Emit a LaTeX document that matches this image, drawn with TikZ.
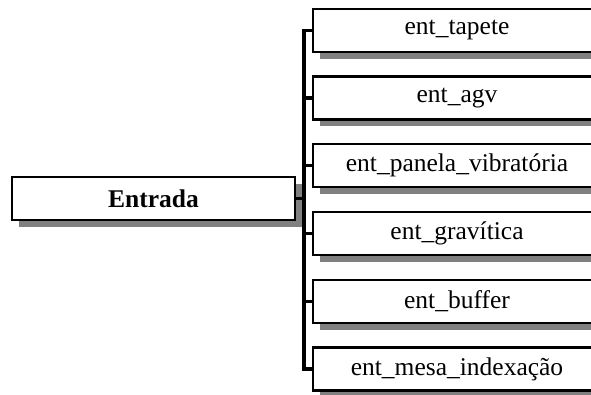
\documentclass[tikz,border=0pt]{standalone}
\usepackage{fontspec}
\setmainfont{Liberation Serif}
\usetikzlibrary{shadows}
\definecolor{shadowgray}{RGB}{128,128,128}
\begin{document}
\begin{tikzpicture}[x=1pt,y=1pt,
  box/.style={draw, line width=2.3pt, fill=white, minimum height=43pt, inner sep=0pt,
    font=\fontsize{25.5}{30}\selectfont,
    drop shadow={shadow xshift=7pt, shadow yshift=-7pt, fill=shadowgray, opacity=1}},
  subbox/.style={box, minimum width=288pt},
  bus/.style={line width=3.5pt}]
\useasboundingbox (0,0) rectangle (591,394);
\clip (0,0) rectangle (591,394);
\node[box, minimum width=283pt, font=\fontsize{25.5}{30}\selectfont\bfseries] (entrada) at (153.5,195.5) {Entrada};
\node[subbox] (t1) at (457,363.5) {ent\_tapete};
\node[subbox] (t2) at (457,296) {ent\_agv};
\node[subbox] (t3) at (457,228.5) {ent\_panela\_vibratória};
\node[subbox] (t4) at (457,160.5) {ent\_gravítica};
\node[subbox] (t5) at (457,92.5) {ent\_buffer};
\node[subbox] (t6) at (457,25) {ent\_mesa\_indexação};
\coordinate (bx) at (304,0);
\draw[bus] (t1.west) -| (t6.west -| bx) -- (t6.west);
\foreach \n in {t2,t3,t4,t5}{\draw[bus] (\n.west) -- (\n.west -| bx);}
\draw[bus] (entrada.east) -- (entrada.east -| bx);
\end{tikzpicture}
\end{document}
